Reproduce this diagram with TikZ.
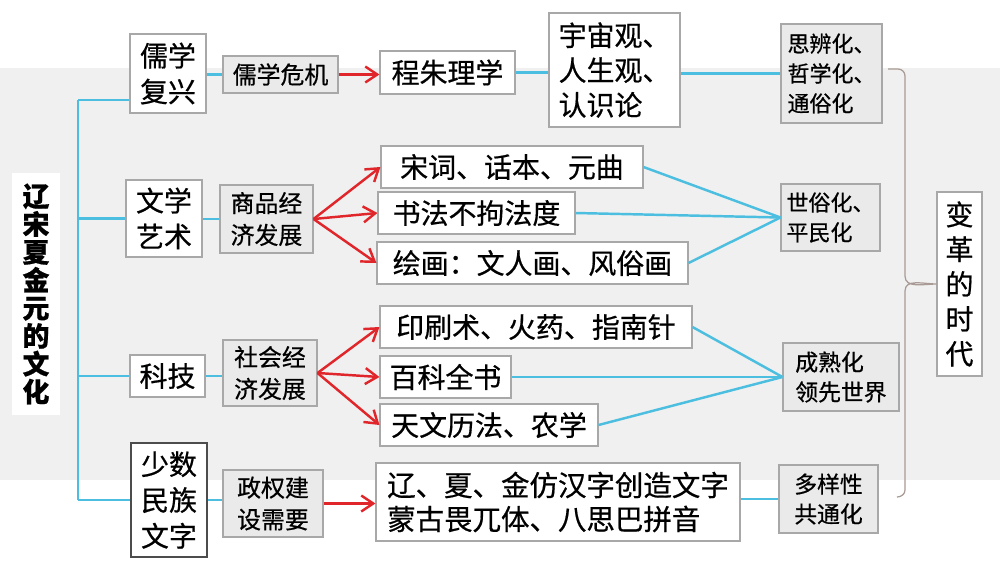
\documentclass[tikz,border=0pt]{standalone}
\usepackage{fontspec}
\setmainfont{Noto Sans CJK SC}[FakeBold=0.6]
\usepackage{xcolor}
\usepackage{tikz}
\usetikzlibrary{arrows.meta}

\definecolor{linkblue}{HTML}{4CBFE0}
\definecolor{arrowred}{HTML}{E0262A}
\definecolor{boxgray}{HTML}{EAEAEA}
\definecolor{bandgray}{HTML}{F0F0F0}
\definecolor{framegray}{HTML}{A8A8A8}
\definecolor{bracebrown}{HTML}{A89A94}

\begin{document}
\begin{tikzpicture}[
    x=0.2mm, y=-0.2mm,
    box/.style={draw=framegray, fill=white, line width=0.6pt, inner sep=0pt, align=left, font=\fontsize{15.9}{20.4}\selectfont},
    gbox/.style={box, fill=boxgray, font=\fontsize{13.6}{18.1}\selectfont},
    rbox/.style={box, fill=boxgray, font=\fontsize{12.5}{17}\selectfont},
    link/.style={draw=linkblue, line width=1.4pt},
    arrow/.style={-{Straight Barb[length=2.4mm,width=3.2mm]}, draw=arrowred, line width=1.4pt}
]
    % Background
    \useasboundingbox (0,0) rectangle (1000,563);
    \fill[white] (0,0) rectangle (1000,563);
    \fill[bandgray] (0,68) rectangle (1000,480);

    % Title
    \node[fill=white, inner sep=0pt, minimum width=9.6mm, minimum height=48.4mm, align=center,
          font=\bfseries\fontsize{15.3}{15.9}\selectfont] (title) at (36,294) {辽\\宋\\夏\\金\\元\\的\\文\\化};

    % Confucianism
    \node[box, minimum width=15.2mm, minimum height=15.8mm] (ruxue) at (168,73.5) {儒学\\复兴};
    \node[gbox, minimum width=23mm, minimum height=7.4mm] (weiji) at (280.5,74.5) {儒学危机};
    \node[box, minimum width=27mm, minimum height=8.6mm] (chengzhu) at (447.5,72.5) {程朱理学};
    \node[box, minimum width=26.2mm, minimum height=22.8mm, font=\fontsize{15.9}{19.8}\selectfont] (yuzhou) at (614.5,70) {宇宙观、\\人生观、\\认识论};
    \node[rbox, minimum width=20.2mm, minimum height=19.8mm] (sibian) at (831.5,73.5) {思辨化、\\哲学化、\\通俗化};

    % Literature and art
    \node[box, minimum width=15.2mm, minimum height=15.4mm] (wenxue) at (164,218.5) {文学\\艺术};
    \node[gbox, minimum width=18.6mm, minimum height=13.6mm] (shangpin) at (266.5,219) {商品经\\济发展};
    \node[box, minimum width=52.4mm, minimum height=8.4mm] (songci) at (512,167) {宋词、话本、元曲};
    \node[box, minimum width=39.4mm, minimum height=8.4mm] (shufa) at (476.5,213) {书法不拘法度};
    \node[box, minimum width=62.2mm, minimum height=8.4mm] (huihua) at (532.5,263) {绘画：文人画、风俗画};
    \node[rbox, minimum width=19.8mm, minimum height=13.4mm] (shisu) at (830.5,217.5) {世俗化、\\平民化};

    % Science and technology
    \node[box, minimum width=15mm, minimum height=8.4mm] (keji) at (167.5,376) {科技};
    \node[gbox, minimum width=18.8mm, minimum height=13.2mm] (shehui) at (270,373) {社会经\\济发展};
    \node[box, minimum width=62.4mm, minimum height=8.4mm] (yinshua) at (536,327) {印刷术、火药、指南针};
    \node[box, minimum width=26.2mm, minimum height=8.4mm] (baike) at (445.5,377) {百科全书};
    \node[box, minimum width=43.6mm, minimum height=8.4mm] (tianwen) at (489,425) {天文历法、农学};
    \node[gbox, minimum width=23.2mm, minimum height=13.6mm, font=\fontsize{13}{17}\selectfont] (chengshu) at (841,377) {成熟化\\领先世界};

    % Minority scripts
    \node[box, draw=black!70, minimum width=15.2mm, minimum height=22.8mm] (shaoshu) at (169,500) {少数\\民族\\文字};
    \node[gbox, minimum width=20mm, minimum height=13.4mm] (zhengquan) at (273,503.5) {政权建\\设需要};
    \node[box, minimum width=72.8mm, minimum height=15.6mm, font=\fontsize{16.2}{19.3}\selectfont] (wenzi) at (558,502) {辽、夏、金仿汉字创造文字\\蒙古畏兀体、八思巴拼音};
    \node[gbox, minimum width=19.8mm, minimum height=13.6mm, font=\fontsize{13}{17}\selectfont] (duoyang) at (828.5,499) {多样性\\共通化};

    % Era
    \node[box, minimum width=9mm, minimum height=36.8mm, align=center, font=\fontsize{15.9}{19.8}\selectfont] (biange) at (959.5,284) {变\\革\\的\\时\\代};

    % Trunk
    \coordinate (top) at (78,100);
    \coordinate (bot) at (78,500);
    \draw[link] (top) -- (bot);
    \draw[link] (top) -- (top -| ruxue.west);
    \draw[link] (wenxue.west -| top) -- (wenxue.west);
    \draw[link] (keji.west -| top) -- (keji.west);
    \draw[link] (bot) -- (bot -| shaoshu.west);

    % Blue connections
    \draw[link] (ruxue.east |- weiji.west) -- (weiji.west);
    \draw[link] (wenxue.east |- shangpin.west) -- (shangpin.west);
    \draw[link] (keji.east) -- (keji.east -| shehui.west);
    \draw[link] (shaoshu.east) -- (shaoshu.east -| zhengquan.west);
    \draw[link] (chengzhu.east) -- (chengzhu.east -| yuzhou.west);
    \draw[link] (yuzhou.east |- sibian.west) -- (sibian.west);
    \draw[link] (songci.east) -- (shisu.west);
    \draw[link] (shufa.east) -- (shisu.west);
    \draw[link] (huihua.east) -- (shisu.west);
    \draw[link] (yinshua.east) -- (chengshu.west);
    \draw[link] (baike.east) -- (chengshu.west);
    \draw[link] (tianwen.east) -- (chengshu.west);
    \draw[link] (wenzi.east |- duoyang.west) -- (duoyang.west);

    % Red arrows
    \draw[arrow] (weiji.east) -- (weiji.east -| chengzhu.west);
    \draw[arrow] (shangpin.east) -- (songci.west);
    \draw[arrow] (shangpin.east) -- (shufa.west);
    \draw[arrow] (shangpin.east) -- (huihua.west);
    \draw[arrow] (shehui.east) -- (yinshua.west);
    \draw[arrow] (shehui.east) -- (baike.west);
    \draw[arrow] (shehui.east) -- (tianwen.west);
    \draw[arrow] (zhengquan.east) -- (zhengquan.east -| wenzi.west);

    % Brace
    \coordinate (tip) at (biange.west);
    \draw[bracebrown, line width=0.7pt] (888,69) -- (898,69) to[out=0,in=90] (905,76) -- (905,276)
        to[out=-90,in=180] (tip) to[out=180,in=90] (905,291) -- (905,490) to[out=-90,in=0] (897,497);
\end{tikzpicture}
\end{document}
